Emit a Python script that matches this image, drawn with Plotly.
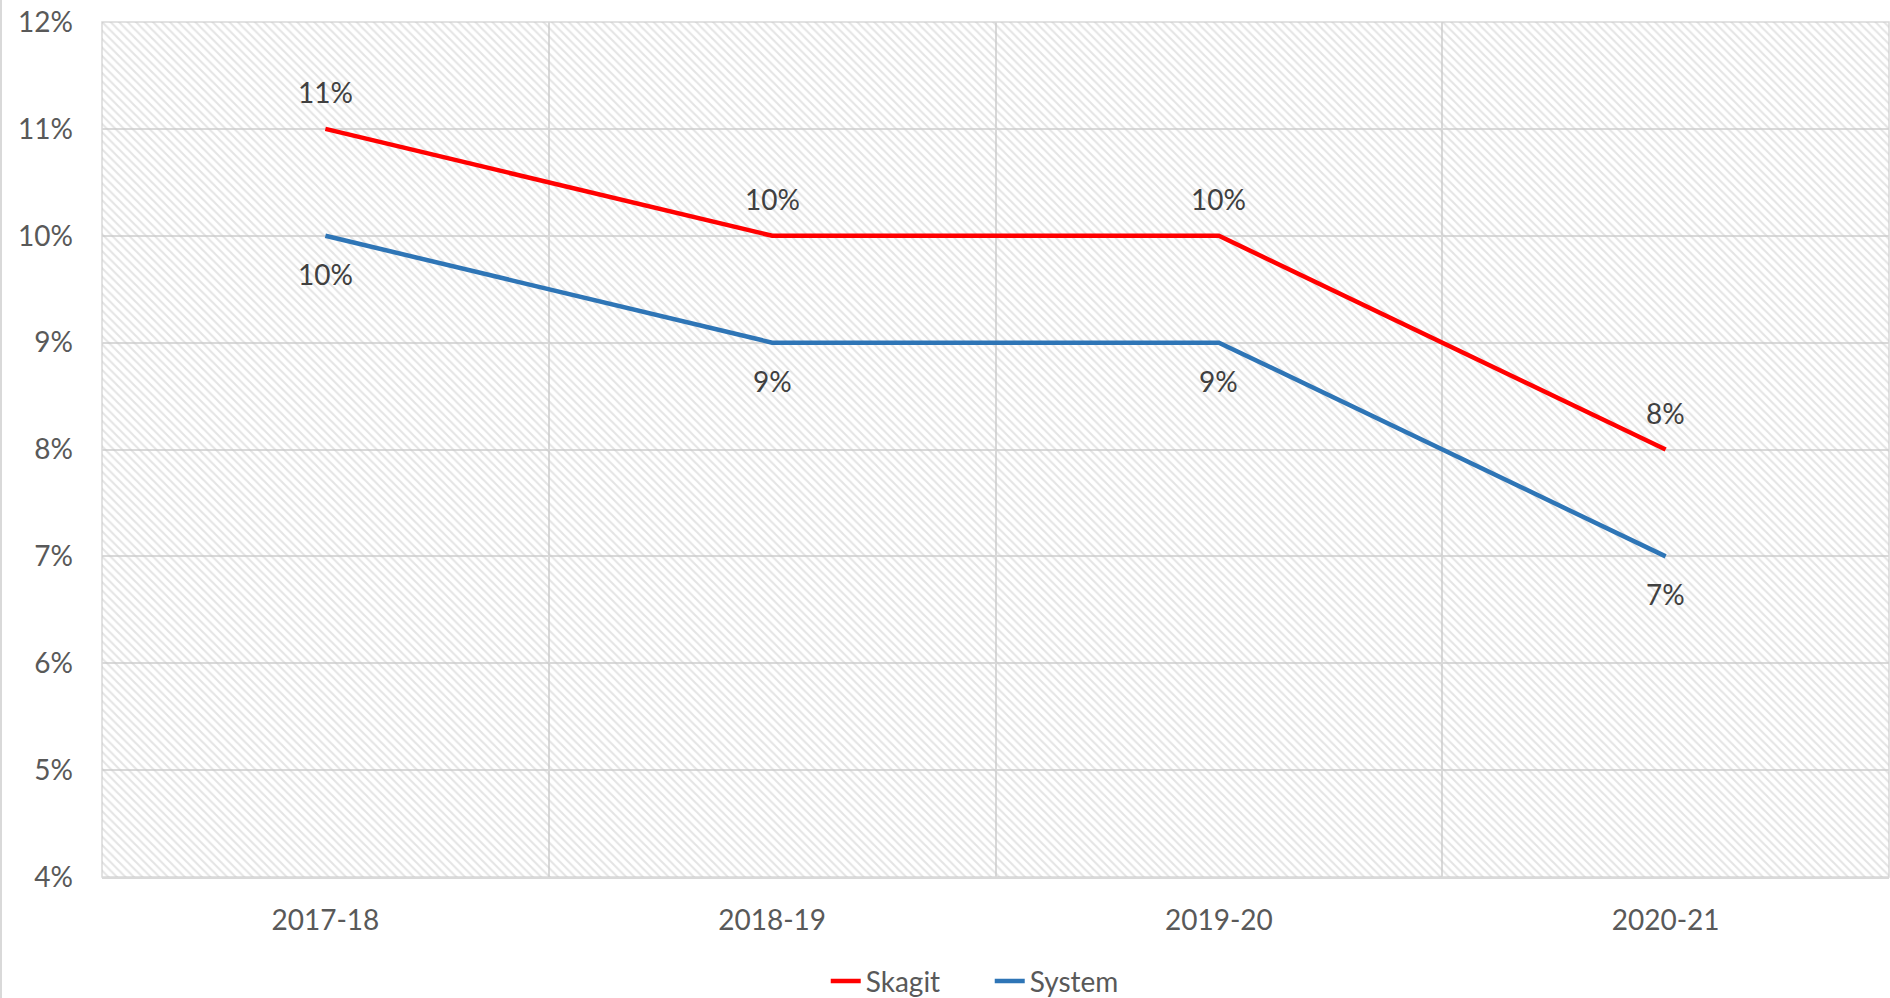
import plotly.graph_objects as go

categories = ["2017-18", "2018-19", "2019-20", "2020-21"]
skagit = [0.11, 0.10, 0.10, 0.08]
system = [0.10, 0.09, 0.09, 0.07]
y_ticks = [0.04, 0.05, 0.06, 0.07, 0.08, 0.09, 0.10, 0.11, 0.12]
y_tick_labels = ["4%", "5%", "6%", "7%", "8%", "9%", "10%", "11%", "12%"]

FONT = "Lato"
FS = 28
TEXT_COLOR = "#595959"
LABEL_COLOR = "#404040"
GRID = "#D9D9D9"

W, H = 1890, 998
ML, MR, MT, MB = 102, 1, 22, 121
PW = W - ML - MR

fig = go.Figure()

# hatched plot-area background on the base (hidden) axes
fig.add_trace(go.Scatter(
    x=[0, 1, 1, 0, 0], y=[0, 0, 1, 1, 0],
    xaxis="x", yaxis="y",
    mode="none", fill="toself",
    fillcolor="rgba(0,0,0,0)",
    fillpattern=dict(shape="\\", fgcolor="#CACACA", bgcolor="rgba(255,255,255,0)",
                     size=6, solidity=0.35),
    hoverinfo="skip", showlegend=False,
))

fig.add_trace(go.Scatter(
    x=categories, y=skagit, name="Skagit", mode="lines",
    xaxis="x2", yaxis="y2",
    line=dict(color="#FF0000", width=4.5),
))
fig.add_trace(go.Scatter(
    x=categories, y=system, name="System", mode="lines",
    xaxis="x2", yaxis="y2",
    line=dict(color="#2E75B6", width=4.5),
))

for c, v in zip(categories, skagit):
    fig.add_annotation(x=c, y=v, xref="x2", yref="y2", text=f"{round(v*100)}%",
                       showarrow=False, yshift=37,
                       font=dict(family=FONT, size=FS, color=LABEL_COLOR))
for c, v in zip(categories, system):
    fig.add_annotation(x=c, y=v, xref="x2", yref="y2", text=f"{round(v*100)}%",
                       showarrow=False, yshift=-38,
                       font=dict(family=FONT, size=FS, color=LABEL_COLOR))

fig.update_layout(
    width=W, height=H,
    margin=dict(l=ML, r=MR, t=MT, b=MB, autoexpand=False),
    paper_bgcolor="white", plot_bgcolor="white",
    font=dict(family=FONT, size=FS, color=TEXT_COLOR),
    xaxis=dict(range=[0, 1], visible=False, fixedrange=True, automargin=False),
    yaxis=dict(range=[0, 1], visible=False, fixedrange=True, automargin=False),
    xaxis2=dict(
        overlaying="x", anchor="y2",
        type="category", categoryorder="array", categoryarray=categories,
        range=[-0.5, 3.5], tickson="boundaries", ticks="",
        showgrid=True, gridcolor=GRID, gridwidth=1.5,
        showline=True, linecolor=GRID, linewidth=2,
        tickfont=dict(family=FONT, size=FS, color=TEXT_COLOR),
        ticklabelstandoff=17, automargin=False,
        zeroline=False,
    ),
    yaxis2=dict(
        overlaying="y", anchor="x2",
        range=[0.04, 0.12], tickvals=y_ticks, ticktext=y_tick_labels,
        showgrid=True, gridcolor=GRID, gridwidth=1.5,
        showline=False, zeroline=False, ticks="",
        tickfont=dict(family=FONT, size=FS, color=TEXT_COLOR),
        ticklabelstandoff=28, automargin=False, ticklabeloverflow="allow",
    ),
    legend=dict(
        orientation="h", x=0.405, xanchor="left", y=-0.122, yanchor="middle",
        font=dict(family=FONT, size=FS, color=TEXT_COLOR),
        bgcolor="rgba(0,0,0,0)", entrywidth=119, entrywidthmode="pixels",
        tracegroupgap=0,
    ),
    shapes=[
        dict(type="rect", xref="paper", yref="paper", x0=0, x1=1, y0=0, y1=1,
             line=dict(color=GRID, width=1.5), layer="below"),
        # thin chart-area border on the left edge of the figure
        dict(type="line", xref="paper", yref="paper",
             x0=(1 - ML) / PW, x1=(1 - ML) / PW, y0=-MB / (H - MT - MB),
             y1=1 + MT / (H - MT - MB),
             line=dict(color=GRID, width=2), layer="above"),
    ],
)

fig.write_html(
    "out.html",
    config={"displayModeBar": False},
    post_script="document.body.style.margin='0';document.body.style.overflow='hidden';",
)
